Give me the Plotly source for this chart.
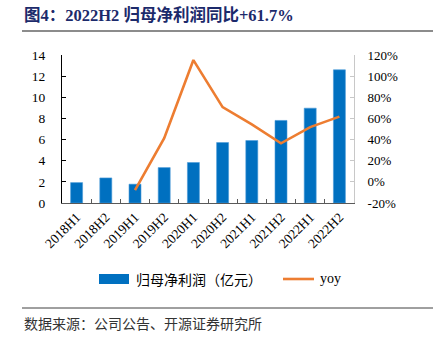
import plotly.graph_objects as go

# Half-year net profit attributable to parent (100 million CNY) and YoY growth (%)
periods = ["2018H1", "2018H2", "2019H1", "2019H2", "2020H1",
           "2020H2", "2021H1", "2021H2", "2022H1", "2022H2"]
net_profit = [1.93, 2.37, 1.78, 3.35, 3.83, 5.72, 5.91, 7.81, 8.97, 12.60]
yoy_pct = [None, None, -7.8, 41.4, 115.2, 70.7, 54.3, 36.5, 51.8, 61.7]

left_ticks = [0, 2, 4, 6, 8, 10, 12, 14]
right_ticks = [-20, 0, 20, 40, 60, 80, 100, 120]
right_labels = [f"{v}%" for v in right_ticks]

W, H = 443, 340
L, R, T, B = 62, 354, 55, 203  # plot area in pixels

SERIF = "Times New Roman, Liberation Serif, serif"
CJK = "Noto Sans CJK SC, sans-serif"


def px(x):
    return (x - L) / (R - L)


def py(y):
    return (B - y) / (B - T)


fig = go.Figure()
fig.add_trace(go.Bar(
    x=periods, y=net_profit, name="归母净利润（亿元）",
    marker=dict(color="#0070C0", line=dict(color="#4a9ad8", width=0.6)),
    width=0.41, yaxis="y", showlegend=False,
))
fig.add_trace(go.Scatter(
    x=periods, y=yoy_pct, name="yoy", mode="lines",
    line=dict(color="#ED7D31", width=2.6), yaxis="y2",
    connectgaps=False, showlegend=False,
))

fig.update_layout(
    width=W, height=H,
    margin=dict(l=L, r=W - R, t=T, b=H - B, pad=0),
    paper_bgcolor="white", plot_bgcolor="white",
    font=dict(family=SERIF, size=13, color="#000000"),
    xaxis=dict(
        type="category", tickangle=-45, showgrid=False,
        showline=True, linecolor="#595959", linewidth=1,
        ticks="inside", ticklen=4, tickcolor="#595959",
        tickson="boundaries", tickfont=dict(family=SERIF, size=13.5),
        range=[-0.5, len(periods) - 0.5],
    ),
    yaxis=dict(
        range=[0, 14], tickvals=left_ticks, showgrid=False, zeroline=False,
        showline=True, linecolor="#000000", linewidth=1,
        ticks="inside", ticklen=4, tickcolor="#000000",
        ticklabelstandoff=13, tickfont=dict(family=SERIF, size=13.5),
    ),
    yaxis2=dict(
        range=[-20, 120], tickmode="array", tickvals=right_ticks,
        ticktext=right_labels,
        overlaying="y", side="right", showgrid=False, zeroline=False,
        showline=True, linecolor="#c8c8c8", linewidth=1,
        ticks="inside", ticklen=4, tickcolor="#c8c8c8",
        ticklabelstandoff=10, tickfont=dict(family=SERIF, size=13),
    ),
    showlegend=False,
)

shapes = [
    # rule under the heading
    dict(type="line", xref="paper", yref="paper",
         x0=px(22), x1=px(433), y0=py(31), y1=py(31),
         line=dict(color="#8c8c8c", width=2)),
    # rule above the source note
    dict(type="line", xref="paper", yref="paper",
         x0=px(22), x1=px(433), y0=py(308), y1=py(308),
         line=dict(color="#404040", width=1)),
    # legend keys
    dict(type="rect", xref="paper", yref="paper",
         x0=px(99), x1=px(129), y0=py(284), y1=py(274),
         fillcolor="#0070C0", line=dict(width=0)),
    dict(type="line", xref="paper", yref="paper",
         x0=px(283), x1=px(314), y0=py(279), y1=py(279),
         line=dict(color="#ED7D31", width=2.6)),
]

annotations = [
    dict(text="<b>图4：2022H2 归母净利润同比+61.7%</b>",
         xref="paper", yref="paper", x=px(22), y=py(15),
         xanchor="left", yanchor="middle", showarrow=False,
         font=dict(family="Times New Roman, Liberation Serif, Noto Sans CJK SC",
                   size=16.5, color="#1c2a6b")),
    dict(text="归母净利润（亿元）", xref="paper", yref="paper",
         x=px(134), y=py(279), xanchor="left", yanchor="middle",
         showarrow=False, font=dict(family=CJK, size=14, color="#000000")),
    dict(text="yoy", xref="paper", yref="paper",
         x=px(318), y=py(278), xanchor="left", yanchor="middle",
         showarrow=False, font=dict(family=SERIF, size=14, color="#000000")),
    dict(text="数据来源：公司公告、开源证券研究所", xref="paper", yref="paper",
         x=px(22), y=py(323), xanchor="left", yanchor="middle",
         showarrow=False, font=dict(family=CJK, size=14, color="#333333")),
]

fig.update_layout(shapes=shapes, annotations=annotations)
fig.write_html("out.html")
